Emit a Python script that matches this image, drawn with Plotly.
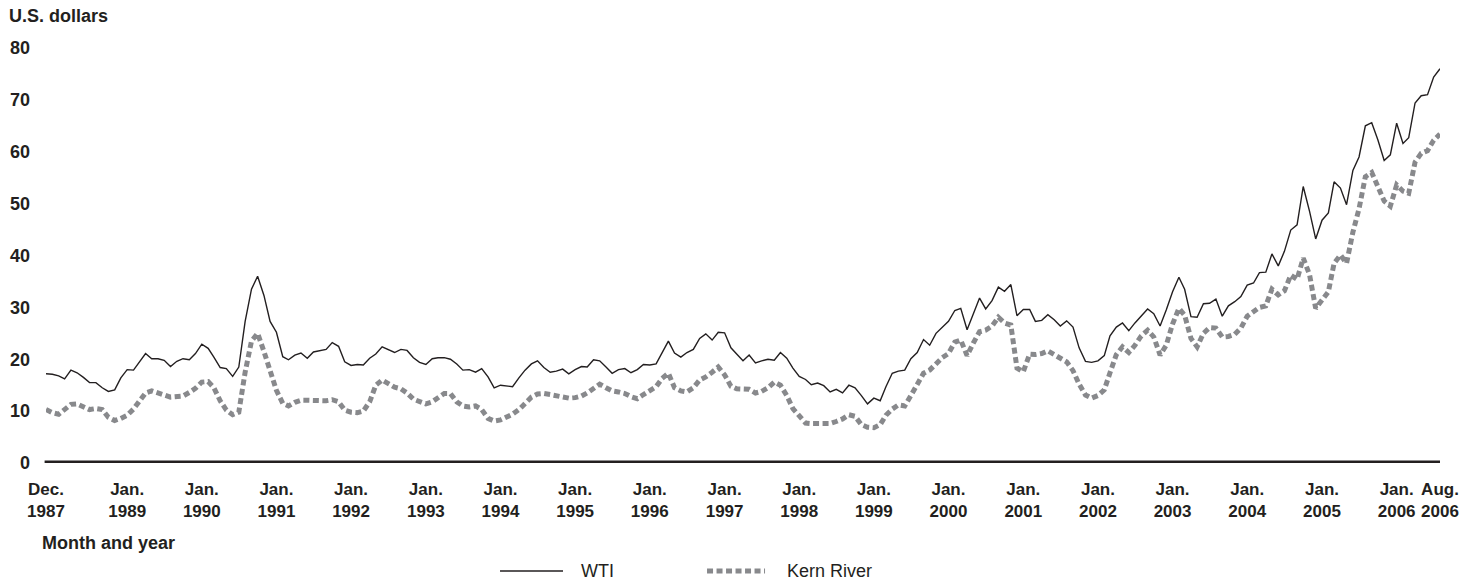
import pandas as pd
import plotly.graph_objects as go

# Monthly observations, Dec. 1987 .. Aug. 2006
months = pd.date_range("1987-12-01", "2006-08-01", freq="MS")

wti = [
    17.2,
    17.1, 16.8, 16.2, 17.9, 17.4, 16.5, 15.5, 15.5, 14.5, 13.8, 14.1, 16.4,
    18.0, 17.9, 19.5, 21.1, 20.1, 20.1, 19.8, 18.6, 19.6, 20.1, 19.9, 21.1,
    22.9, 22.1, 20.4, 18.4, 18.2, 16.7, 18.5, 27.3, 33.5, 36.0, 32.3, 27.3,
    25.2, 20.5, 19.9, 20.8, 21.2, 20.2, 21.4, 21.7, 21.9, 23.2, 22.5, 19.5,
    18.8, 19.0, 18.9, 20.2, 21.0, 22.4, 21.8, 21.3, 21.9, 21.7, 20.3, 19.4,
    19.0, 20.1, 20.3, 20.3, 20.0, 19.1, 17.9, 18.0, 17.5, 18.2, 16.6, 14.5,
    15.0, 14.8, 14.7, 16.4, 17.9, 19.1, 19.7, 18.4, 17.5, 17.7, 18.1, 17.2,
    18.0, 18.6, 18.5, 19.9, 19.7, 18.5, 17.3, 18.0, 18.2, 17.4, 18.0, 19.0,
    18.9, 19.1, 21.3, 23.5, 21.2, 20.4, 21.3, 21.9, 24.0, 24.9, 23.7, 25.2,
    25.1, 22.2, 21.0, 19.7, 20.8, 19.3, 19.7, 20.0, 19.8, 21.3, 20.2, 18.3,
    16.7, 16.1, 15.1, 15.4, 14.9, 13.7, 14.2, 13.5, 15.0, 14.5, 13.0, 11.4,
    12.5, 12.0, 14.7, 17.3, 17.7, 17.9, 20.1, 21.3, 23.8, 22.7, 25.0, 26.1,
    27.3, 29.4, 29.8, 25.7, 28.8, 31.8, 29.7, 31.3, 33.9, 33.1, 34.4, 28.4,
    29.6, 29.6, 27.3, 27.5, 28.6, 27.6, 26.4, 27.4, 26.2, 22.2, 19.6, 19.4,
    19.7, 20.7, 24.5, 26.2, 27.0, 25.5, 27.0, 28.4, 29.7, 28.8, 26.4, 29.5,
    33.0, 35.8, 33.5, 28.2, 28.1, 30.7, 30.8, 31.6, 28.3, 30.3, 31.1, 32.1,
    34.3, 34.7, 36.7, 36.8, 40.3, 38.0, 40.8, 44.9, 45.9, 53.3, 48.5, 43.2,
    46.8, 48.2, 54.2, 53.0, 49.8, 56.4, 59.0, 65.0, 65.6, 62.3, 58.3, 59.4,
    65.5, 61.6, 62.7, 69.4, 70.8, 71.0, 74.4, 76.0,
]

kern = [
    10.3,
    9.7, 9.4, 10.3, 11.3, 11.4, 10.9, 10.3, 10.5, 10.3, 8.8, 8.2, 8.6,
    9.2, 10.4, 11.8, 13.5, 13.9, 13.6, 13.1, 12.7, 12.7, 12.9, 13.6, 14.4,
    15.6, 15.7, 14.5, 12.0, 10.2, 9.3, 9.8, 17.5, 23.5, 25.0, 21.5, 18.0,
    14.0, 11.5, 11.0, 11.7, 12.1, 12.1, 12.0, 12.0, 12.0, 12.2, 11.8, 10.2,
    9.8, 9.7, 10.0, 11.8, 15.0, 16.0, 15.4, 14.6, 14.3, 13.5, 12.3, 11.8,
    11.4, 11.8, 12.6, 13.4, 13.4, 11.8, 11.0, 10.8, 11.0, 10.3, 8.6, 8.1,
    8.3, 8.8, 9.4, 10.3, 11.6, 12.7, 13.3, 13.4, 13.2, 13.0, 12.7, 12.5,
    12.6, 12.9, 13.5, 14.5, 15.2, 14.5, 13.9, 13.7, 13.4, 12.8, 12.4, 13.2,
    13.9, 14.7, 16.3, 17.3, 14.5, 13.9, 13.7, 14.5, 16.0, 16.6, 17.5, 18.5,
    17.0, 14.8, 14.3, 14.2, 14.2, 13.5, 13.8, 14.5, 15.6, 15.0, 13.0, 10.5,
    8.9, 7.7, 7.6, 7.6, 7.4, 7.6, 8.0, 8.5, 9.3, 9.0, 7.4, 6.9,
    6.8, 7.4, 9.2, 10.4, 11.2, 11.0, 13.0, 15.2, 17.3, 17.9, 19.2, 20.3,
    21.1, 23.3, 23.7, 20.7, 23.1, 25.3, 25.6, 26.4, 28.1, 27.0, 26.6, 18.3,
    17.6, 21.0, 20.9, 21.1, 21.6, 20.8, 20.2, 19.5, 17.8, 15.2, 13.1, 12.5,
    13.0, 14.1, 17.4, 20.9, 22.4, 21.3, 22.7, 24.5, 25.6, 24.3, 20.8, 22.7,
    26.8, 29.8, 28.5, 24.0, 22.4, 25.0, 26.1, 26.0, 24.3, 24.4, 24.8, 26.0,
    28.3, 29.1, 30.0, 30.3, 33.5, 32.4, 33.2, 36.2, 35.4, 39.5, 36.3, 29.8,
    31.3, 33.0, 38.5, 40.1, 38.5, 44.5, 49.0, 55.2, 56.0, 53.4, 50.5, 49.5,
    53.6, 52.4, 52.0, 58.0, 59.7, 60.2, 62.2, 63.4,
]

series_names = ["WTI", "Kern River"]
tick_dates = ["1987-12-01"] + [f"{y}-01-01" for y in range(1989, 2007)] + ["2006-08-01"]
tick_labels = ["Dec.<br>1987"] + [f"Jan.<br>{y}" for y in range(1989, 2007)] + ["Aug.<br>2006"]
y_ticks = [0, 10, 20, 30, 40, 50, 60, 70, 80]

INK = "#231f20"
GRAY = "#88898c"
FONT = "Liberation Sans"
KERN_DASH = "6px,3.5px"

fig = go.Figure()
fig.add_trace(go.Scatter(
    x=months, y=wti, mode="lines", name=series_names[0],
    line=dict(color=INK, width=1.4), showlegend=False,
))
fig.add_trace(go.Scatter(
    x=months, y=kern, mode="lines", name=series_names[1],
    line=dict(color=GRAY, width=5, dash=KERN_DASH), showlegend=False,
))

# zero axis line
fig.add_shape(type="line", xref="paper", yref="y", x0=-0.001, x1=1.0, y0=0, y1=0,
              line=dict(color=INK, width=5), layer="below")

# legend keys (drawn below the axis title)
LEG_Y = -0.2602
fig.add_shape(type="line", xref="paper", yref="paper", x0=0.3257, x1=0.3709,
              y0=LEG_Y, y1=LEG_Y, line=dict(color=INK, width=1.4))
fig.add_shape(type="line", xref="paper", yref="paper", x0=0.4742, x1=0.5158,
              y0=LEG_Y, y1=LEG_Y, line=dict(color=GRAY, width=5, dash=KERN_DASH))

fig.update_layout(
    width=1480, height=586,
    margin=dict(l=46, r=40, t=48, b=123, autoexpand=False),
    paper_bgcolor="white", plot_bgcolor="white",
    font=dict(family=FONT, size=18, color=INK),
    showlegend=False,
    xaxis=dict(
        type="date",
        range=["1987-12-01", "2006-08-01"],
        tickvals=tick_dates, ticktext=tick_labels, tickangle=0,
        showgrid=False, zeroline=False, showline=False, ticks="",
        ticklabelstandoff=14, automargin=False,
        tickfont=dict(family=FONT, size=17, color=INK, weight="bold"),
    ),
    yaxis=dict(
        range=[0, 80], tickvals=y_ticks,
        showgrid=False, zeroline=False, showline=False, ticks="",
        ticklabelstandoff=15, automargin=False,
        tickfont=dict(family=FONT, size=18, color=INK, weight="bold"),
    ),
    annotations=[
        dict(text="U.S. dollars", xref="paper", yref="paper",
             x=-0.028, y=1.077, xanchor="left", yanchor="middle", showarrow=False,
             font=dict(family=FONT, size=18, color=INK, weight="bold")),
        dict(text="Month and year", xref="paper", yref="paper",
             x=-0.0043, y=-0.193, xanchor="left", yanchor="middle", showarrow=False,
             font=dict(family=FONT, size=18, color=INK, weight="bold")),
        dict(text=series_names[0], xref="paper", yref="paper",
             x=0.3825, y=LEG_Y, xanchor="left", yanchor="middle", showarrow=False,
             font=dict(family=FONT, size=18, color=INK)),
        dict(text=series_names[1], xref="paper", yref="paper",
             x=0.5303, y=LEG_Y, xanchor="left", yanchor="middle", showarrow=False,
             font=dict(family=FONT, size=18, color=INK)),
    ],
)

# remove the default page margin so the 1480x586 figure fills the window exactly
fig.write_html("out.html", config={"displayModeBar": False},
               post_script="document.body.style.margin='0';")
